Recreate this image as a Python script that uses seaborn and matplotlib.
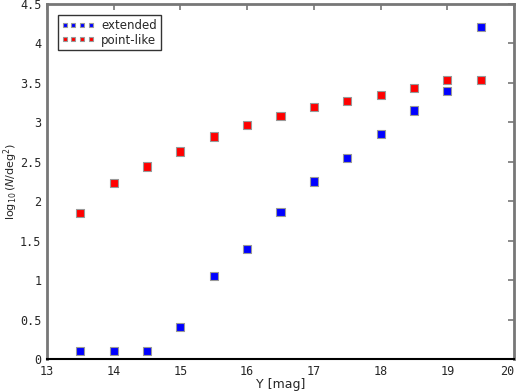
import matplotlib
matplotlib.use("Agg")
import matplotlib.pyplot as plt
import numpy as np
import pandas as pd
import seaborn as sns

mag = [13.5, 14, 14.5, 15, 15.5, 16, 16.5, 17, 17.5, 18, 18.5, 19, 19.5]
extended = [0.1, 0.1, 0.1, 0.4, 1.05, 1.4, 1.86, 2.25, 2.55, 2.85, 3.15, 3.4, 4.21]
point_like = [1.85, 2.23, 2.44, 2.63, 2.82, 2.97, 3.08, 3.2, 3.27, 3.35, 3.44, 3.54, 3.54]

df = pd.DataFrame({
    "mag": mag * 2,
    "logN": extended + point_like,
    "type": ["extended"] * len(mag) + ["point-like"] * len(mag),
})

sns.set_style("white")
plt.rcParams["font.family"] = ["DejaVu Sans"]

fig = plt.figure(figsize=(5.18, 3.91), dpi=100)
ax = fig.add_axes([47 / 518, 1 - 359 / 391, 467 / 518, 355 / 391])

sns.scatterplot(data=df, x="mag", y="logN", hue="type", marker="s", s=34,
                palette={"extended": "#0000ff", "point-like": "#ff0000"},
                edgecolor="#999999", linewidth=0.8, ax=ax, zorder=3)

ax.set_xlim(13, 20)
ax.set_ylim(0, 4.5)
ax.set_xticks(np.arange(13, 21, 1))
ax.set_yticks(np.arange(0, 4.6, 0.5))
ax.set_xticklabels([str(v) for v in range(13, 21)])
ax.set_yticklabels(["0", "0.5", "1", "1.5", "2", "2.5", "3", "3.5", "4", "4.5"])
ax.tick_params(direction="in", length=4, width=1.2, color="#777777",
               labelsize=8.5, top=True, right=True, pad=4)
for lbl in ax.get_xticklabels() + ax.get_yticklabels():
    lbl.set_family("DejaVu Sans Mono")
ax.get_xticklabels()[-1].set_horizontalalignment("right")

for side in ["left", "top", "right"]:
    ax.spines[side].set_color("#777777")
    ax.spines[side].set_linewidth(2)
ax.spines["bottom"].set_color("black")
ax.spines["bottom"].set_linewidth(1.5)

ax.set_xlabel("Y [mag]", fontsize=9, labelpad=0)
ax.set_ylabel(r"$\log_{10}(N/\mathrm{deg}^2)$", fontsize=8)
ax.yaxis.set_label_coords(-0.058, 0.5)

handles, labels = ax.get_legend_handles_labels()
leg = ax.legend(handles, labels, loc="upper left", numpoints=4, scatterpoints=4,
                markerscale=0.5, fontsize=8.5, frameon=True, fancybox=False,
                handlelength=2.8, handletextpad=0.6, borderpad=0.3,
                labelspacing=0.15, borderaxespad=0.5,
                bbox_to_anchor=(0.01, 0.985))
leg.get_frame().set_edgecolor("black")
leg.get_frame().set_linewidth(1)

fig.savefig("out.png", dpi=100)
